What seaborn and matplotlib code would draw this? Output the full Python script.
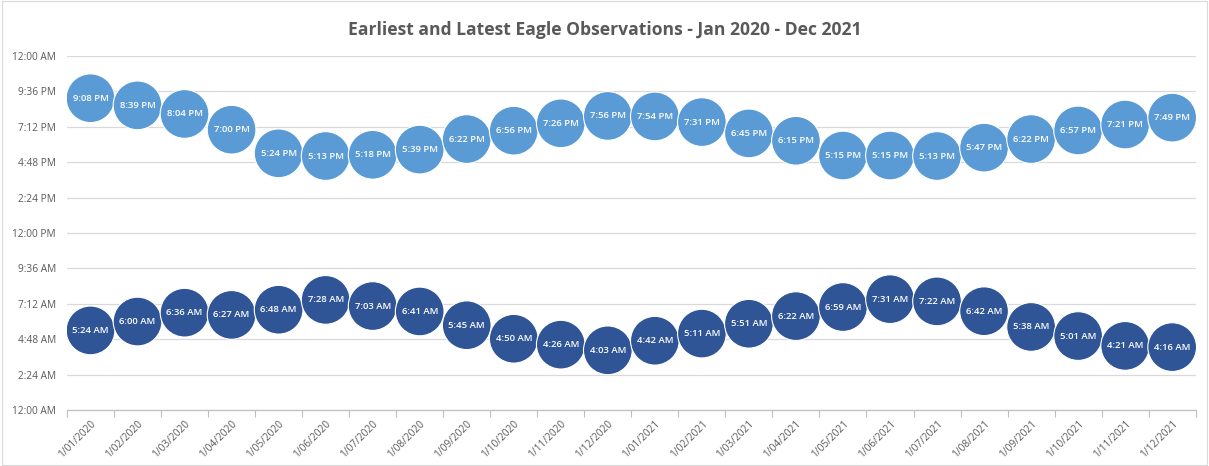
import matplotlib
matplotlib.use("Agg")
import matplotlib.pyplot as plt
import seaborn as sns
import pandas as pd
import numpy as np

months = ["1/01/2020", "1/02/2020", "1/03/2020", "1/04/2020", "1/05/2020", "1/06/2020",
          "1/07/2020", "1/08/2020", "1/09/2020", "1/10/2020", "1/11/2020", "1/12/2020",
          "1/01/2021", "1/02/2021", "1/03/2021", "1/04/2021", "1/05/2021", "1/06/2021",
          "1/07/2021", "1/08/2021", "1/09/2021", "1/10/2021", "1/11/2021", "1/12/2021"]

latest = ["9:08 PM", "8:39 PM", "8:04 PM", "7:00 PM", "5:24 PM", "5:13 PM",
          "5:18 PM", "5:39 PM", "6:22 PM", "6:56 PM", "7:26 PM", "7:56 PM",
          "7:54 PM", "7:31 PM", "6:45 PM", "6:15 PM", "5:15 PM", "5:15 PM",
          "5:13 PM", "5:47 PM", "6:22 PM", "6:57 PM", "7:21 PM", "7:49 PM"]

earliest = ["5:24 AM", "6:00 AM", "6:36 AM", "6:27 AM", "6:48 AM", "7:28 AM",
            "7:03 AM", "6:41 AM", "5:45 AM", "4:50 AM", "4:26 AM", "4:03 AM",
            "4:42 AM", "5:11 AM", "5:51 AM", "6:22 AM", "6:59 AM", "7:31 AM",
            "7:22 AM", "6:42 AM", "5:38 AM", "5:01 AM", "4:21 AM", "4:16 AM"]

y_tick_labels = ["12:00 AM", "2:24 AM", "4:48 AM", "7:12 AM", "9:36 AM", "12:00 PM",
                 "2:24 PM", "4:48 PM", "7:12 PM", "9:36 PM", "12:00 AM"]


def to_hours(s):
    t, ap = s.split()
    h, m = map(int, t.split(":"))
    h = h % 12 + (12 if ap == "PM" else 0)
    return h + m / 60.0


rows = []
for i, (m, lt, et) in enumerate(zip(months, latest, earliest)):
    rows.append({"pos": i + 0.5, "month": m, "hours": to_hours(lt), "label": lt, "series": "Latest"})
    rows.append({"pos": i + 0.5, "month": m, "hours": to_hours(et), "label": et, "series": "Earliest"})
df = pd.DataFrame(rows)

sns.set_theme(style="white")
plt.rcParams["font.family"] = ["Open Sans", "DejaVu Sans"]

fig = plt.figure(figsize=(12.09, 4.66), dpi=100)
ax = fig.add_axes([0.0554, 0.120, 0.9336, 0.760])

palette = {"Latest": "#5B9BD5", "Earliest": "#2F5597"}
sns.scatterplot(data=df, x="pos", y="hours", hue="series", palette=palette,
                s=1230, edgecolor="white", linewidth=0.8, legend=False, ax=ax, zorder=3)

for _, r in df.iterrows():
    ax.text(r["pos"], r["hours"], r["label"], ha="center", va="center",
            color="white", fontsize=6.8, fontweight="semibold", zorder=4)

ax.set_xlim(0, 24)
ax.set_ylim(0, 24)
ax.set_yticks(np.arange(11) * 2.4)
ax.set_yticklabels(y_tick_labels, fontsize=7.3, color="#595959")
ax.set_xticks(np.arange(25))
ax.set_xticklabels([])
ax.set_xticks(np.arange(24) + 0.5, minor=True)
ax.set_xticklabels(months, minor=True, rotation=45, ha="right", rotation_mode="anchor",
                   fontsize=7.3, color="#595959")
ax.tick_params(axis="x", which="major", length=5, color="#BFBFBF", width=0.8, direction="out", bottom=True)
ax.tick_params(axis="x", which="minor", length=0, pad=6)
ax.tick_params(axis="y", length=0, pad=8)

ax.grid(axis="y", color="#D9D9D9", linewidth=0.9, zorder=0)
ax.set_axisbelow(True)
for side in ["top", "right", "left"]:
    ax.spines[side].set_visible(False)
ax.spines["bottom"].set_color("#BFBFBF")
ax.spines["bottom"].set_linewidth(0.9)
ax.set_xlabel("")
ax.set_ylabel("")

fig.text(0.5, 0.935, "Earliest and Latest Eagle Observations - Jan 2020 - Dec 2021",
         ha="center", va="center", fontsize=12.6, fontweight="bold", color="#595959")

fig.patches.append(plt.Rectangle((0.002, 0.002), 0.996, 0.996, transform=fig.transFigure,
                                 fill=False, edgecolor="#D9D9D9", linewidth=0.8))

fig.savefig("out.png", dpi=100)
